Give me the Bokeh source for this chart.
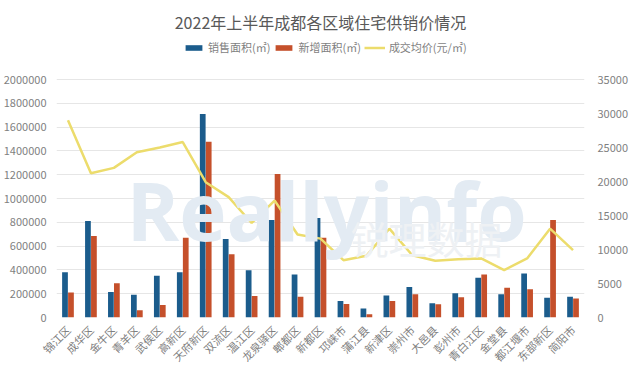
import math
from bokeh.plotting import figure
from bokeh.models import (ColumnDataSource, FactorRange, Range1d, LinearAxis, FixedTicker,
                          BasicTickFormatter, Legend, LegendItem, Label)
from bokeh.transform import dodge
from bokeh.embed import file_html
from bokeh.resources import INLINE

districts = ["锦江区", "成华区", "金牛区", "青羊区", "武侯区", "高新区", "天府新区", "双流区",
             "温江区", "龙泉驿区", "郫都区", "新都区", "邛崃市", "蒲江县", "新津区", "崇州市",
             "大邑县", "彭州市", "青白江区", "金堂县", "都江堰市", "东部新区", "简阳市"]
sales_area = [380000, 810000, 215000, 192000, 351000, 380000, 1710000, 660000,
              398000, 819000, 362000, 836000, 139000, 75000, 184000, 256000,
              120000, 203000, 334000, 195000, 370000, 167000, 175000]
new_area = [210000, 685000, 287000, 61000, 106000, 671000, 1476000, 532000,
            181000, 1206000, 175000, 671000, 114000, 28000, 139000, 195000,
            111000, 170000, 362000, 251000, 237000, 819000, 159000]
avg_price = [29000, 21200, 22000, 24300, 25000, 25800, 19900, 17700,
             13900, 17200, 12200, 11600, 8430, 9070, 13060, 9160,
             8340, 8580, 8680, 6970, 8680, 13060, 9900]
left_ticks = list(range(0, 2000001, 200000))
right_ticks = list(range(0, 35001, 5000))
left_max = 2000000
right_max = 35000

title_text = "2022年上半年成都各区域住宅供销价情况"
label_sales = "销售面积(㎡)"
label_new = "新增面积(㎡)"
label_price = "成交均价(元/㎡)"

FONT = "Noto Sans CJK SC"
GRAY = "#7f7f7f"
BLUE = "#1b5c8c"
ORANGE = "#c5502b"
YELLOW = "#ecdc6c"

# layout (pixels): title sits in its own panel; the frame spans the rest above
# the x axis, the value axes occupy only its lower PLOT_H pixels so the legend fits
W, H = 631, 379
B_LEFT, B_RIGHT, B_BOTTOM, B_TOP = 48, 46, 62, 34
FRAME_H = H - B_BOTTOM - B_TOP
PLOT_H = 238
scale = FRAME_H / PLOT_H

src = ColumnDataSource(dict(d=districts, s=sales_area, n=new_area, p=avg_price))

p = figure(x_range=FactorRange(*districts), y_range=Range1d(0, left_max * scale),
           width=W, height=H, output_backend="svg", toolbar_location=None,
           min_border_left=B_LEFT, min_border_right=B_RIGHT, min_border_top=B_TOP,
           min_border_bottom=B_BOTTOM)
p.extra_y_ranges = {"right": Range1d(0, right_max * scale)}
p.outline_line_color = None
p.background_fill_color = "white"
p.border_fill_color = "white"

p.title.text = title_text
p.title.align = "center"
p.title.text_font = FONT
p.title.text_font_size = "16px"
p.title.text_font_style = "normal"
p.title.text_color = "#595959"
p.title.offset = 14
p.title.standoff = 1

# watermark
wm1 = Label(x=70, y=108, x_units="screen", y_units="screen", text="Reallyinfo",
            text_font="Open Sans", text_font_style="bold", text_font_size="80px",
            text_color="#e3ebf3", text_baseline="alphabetic", level="glyph")
wm2 = Label(x=294, y=80, x_units="screen", y_units="screen", text="锐理数据",
            text_font=FONT, text_font_size="38px",
            text_color="#eef1f4", text_baseline="alphabetic", level="glyph")
p.add_layout(wm1)
p.add_layout(wm2)

r1 = p.vbar(x=dodge("d", -0.13, range=p.x_range), top="s", width=0.25, source=src,
            fill_color=BLUE, line_color=None)
r2 = p.vbar(x=dodge("d", 0.13, range=p.x_range), top="n", width=0.25, source=src,
            fill_color=ORANGE, line_color=None)
r3 = p.line(x="d", y="p", source=src, y_range_name="right", line_color=YELLOW, line_width=2.5)

# axes
p.yaxis.ticker = FixedTicker(ticks=left_ticks)
p.yaxis.formatter = BasicTickFormatter(use_scientific=False)
right = LinearAxis(y_range_name="right", ticker=FixedTicker(ticks=right_ticks),
                   formatter=BasicTickFormatter(use_scientific=False))
p.add_layout(right, "right")

for ax in [p.yaxis[0], right, p.xaxis[0]]:
    ax.axis_line_color = None
    ax.major_tick_line_color = None
    ax.minor_tick_line_color = None
    ax.major_label_text_color = GRAY
    ax.major_label_text_font = FONT
    ax.major_label_text_font_size = "11px"
p.yaxis[0].major_label_standoff = 4
right.major_label_standoff = 7
p.xaxis.major_label_orientation = math.pi / 4
p.xaxis.major_label_standoff = 4

p.xgrid.grid_line_color = None
p.ygrid.grid_line_color = "#e6e6e6"

legend = Legend(items=[LegendItem(label=label_sales, renderers=[r1]),
                       LegendItem(label=label_new, renderers=[r2]),
                       LegendItem(label=label_price, renderers=[r3])],
                orientation="horizontal", location=(127, FRAME_H - 21),
                glyph_width=21, glyph_height=7, label_text_font=FONT,
                label_text_font_size="11px", label_text_color=GRAY,
                label_standoff=4, spacing=3, padding=1, margin=0,
                border_line_color=None, background_fill_alpha=0)
p.add_layout(legend)

open("out.html", "w").write(file_html(p, INLINE))
